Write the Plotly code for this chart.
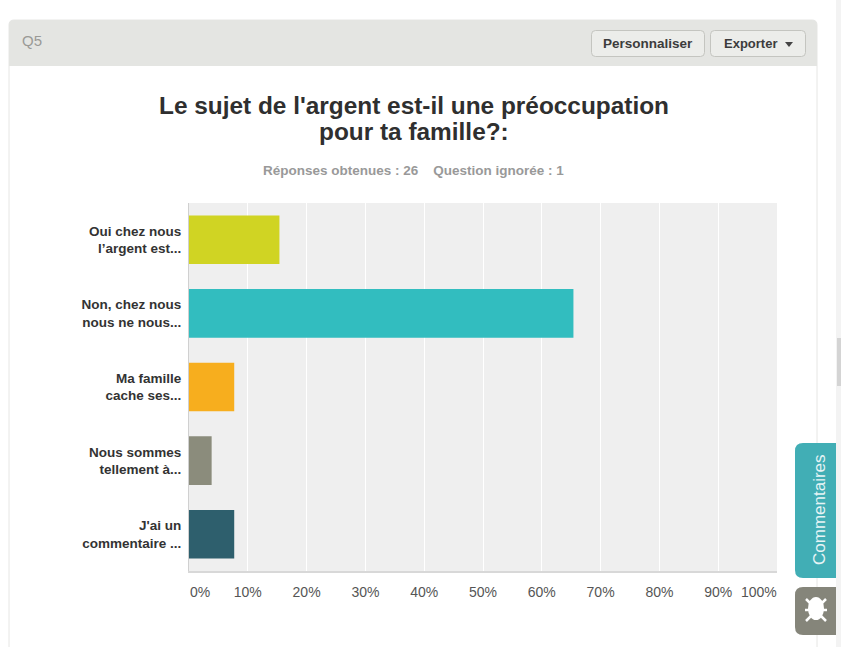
import plotly.graph_objects as go

W, H = 841, 647

categories = ["Oui chez nous<br>l’argent est...", "Non, chez nous<br>nous ne nous...", "Ma famille<br>cache ses...",
              "Nous sommes<br>tellement à...", "J'ai un<br>commentaire ..."]
values = [15.38, 65.38, 7.69, 3.85, 7.69]
colors = ["#d0d423", "#32bdbf", "#f7ae1e", "#8b8c7c", "#2e5f6d"]
tick_values = [10, 20, 30, 40, 50, 60, 70, 80, 90]
tick_labels = ["10%", "20%", "30%", "40%", "50%", "60%", "70%", "80%", "90%"]
FONT = "Liberation Sans, Arial, sans-serif"


def px(x):
    return x / W


def py(y):
    return 1 - y / H


def rrect(x0, y0, x1, y1, r=(4, 4, 4, 4)):
    tl, tr, br, bl = r
    X, Y = px, py
    d = f"M {X(x0+tl)} {Y(y0)} L {X(x1-tr)} {Y(y0)} "
    d += f"Q {X(x1)} {Y(y0)} {X(x1)} {Y(y0+tr)} L {X(x1)} {Y(y1-br)} "
    d += f"Q {X(x1)} {Y(y1)} {X(x1-br)} {Y(y1)} L {X(x0+bl)} {Y(y1)} "
    d += f"Q {X(x0)} {Y(y1)} {X(x0)} {Y(y1-bl)} L {X(x0)} {Y(y0+tl)} "
    d += f"Q {X(x0)} {Y(y0)} {X(x0+tl)} {Y(y0)} Z"
    return d


def pshape(path, fill, line=None, width=1):
    return dict(type="path", xref="paper", yref="paper", path=path, fillcolor=fill,
                line=dict(color=line or "rgba(0,0,0,0)", width=width if line else 0), layer="below")


def box(x0, y0, x1, y1, fill, line=None, width=1):
    return pshape(rrect(x0, y0, x1, y1, (0, 0, 0, 0)), fill, line, width)


def seg(x0, y0, x1, y1, color="#ffffff", width=2.5):
    return dict(type="line", xref="paper", yref="paper", x0=px(x0), y0=py(y0), x1=px(x1), y1=py(y1),
                line=dict(color=color, width=width), layer="above")


def label(x, y, text, size=12, color="#333", bold=False, xanchor="center", angle=0):
    return dict(xref="paper", yref="paper", x=px(x), y=py(y), text=f"<b>{text}</b>" if bold else text,
                showarrow=False, xanchor=xanchor, yanchor="middle", textangle=angle,
                font=dict(family=FONT, size=size, color=color), align="center")


fig = go.Figure(go.Bar(y=categories, x=values, orientation="h", marker=dict(color=colors, line=dict(width=0)),
                       width=0.66, hoverinfo="skip"))

shapes = [
    box(836, 0, 841, 647, "#f3f3f3"),
    box(837, 338, 841, 386, "#d4d4d4"),
    pshape(rrect(9, 20, 817, 660, (5, 5, 0, 0)), "#ffffff", "#e6e6e4", 1),
    pshape(rrect(9, 20, 817, 66, (5, 5, 0, 0)), "#e4e5e2"),
    pshape(rrect(591.5, 30.5, 704.5, 56.5, (4, 4, 4, 4)), "#ecedea", "#c4c5c0", 1),
    pshape(rrect(710.5, 30.5, 805.5, 56.5, (4, 4, 4, 4)), "#ecedea", "#c4c5c0", 1),
    pshape(f"M {px(785)} {py(42)} L {px(793)} {py(42)} L {px(789)} {py(47)} Z", "#444444"),
    box(189, 203, 777, 571, "#efefef"),
    pshape(rrect(795, 443, 836, 578, (8, 0, 0, 8)), "#41aeb5"),
    pshape(rrect(795, 587, 836, 635, (8, 0, 0, 8)), "#85857a"),
    # bug icon
    dict(type="circle", xref="paper", yref="paper", x0=px(808), x1=px(824), y0=py(620), y1=py(597),
         fillcolor="#ffffff", line=dict(width=0), layer="above"),
    seg(806, 599, 811, 604), seg(826, 599, 821, 604),
    seg(805, 610, 827, 610), seg(806, 621, 811, 616), seg(826, 621, 821, 616),
]

annotations = [
    label(20, 41, "Q5", 15, "#9a9a96", xanchor="left"),
    label(647.5, 43.5, "Personnaliser", 13.5, "#3c3c3c", bold=True),
    label(750, 43.5, "Exporter", 13, "#3c3c3c", bold=True),
    label(413.5, 105, "Le sujet de l'argent est-il une préoccupation", 24.4, "#2f2f2f", bold=True),
    label(413.5, 131, "pour ta famille?:", 24.4, "#2f2f2f", bold=True),
    label(413, 170, "Réponses obtenues : 26 &#160;&#160; Question ignorée : 1", 13.5, "#999999", bold=True),
    label(819, 510, "Commentaires", 17, "#e6f4f5", angle=-90),
    dict(xref="x", yref="paper", x=0, y=py(592), text="0%", showarrow=False, xanchor="left", yanchor="middle",
         xshift=-1, font=dict(family=FONT, size=14, color="#555")),
    dict(xref="x", yref="paper", x=100, y=py(592), text="100%", showarrow=False, xanchor="right", yanchor="middle",
         xshift=2, font=dict(family=FONT, size=14, color="#555")),
]

fig.update_layout(
    width=W, height=H, autosize=False, margin=dict(l=0, r=0, t=0, b=0),
    paper_bgcolor="#ffffff", plot_bgcolor="#efefef", showlegend=False, bargap=0.34,
    font=dict(family=FONT), shapes=shapes, annotations=annotations,
    xaxis=dict(domain=[px(189), px(777)], range=[0, 100], tickvals=tick_values, ticktext=tick_labels,
               showgrid=True, gridcolor="#ffffff", gridwidth=1, zeroline=False,
               showline=True, linecolor="#d8d8d8", linewidth=2,
               ticks="outside", ticklen=7, tickcolor="rgba(0,0,0,0)",
               tickfont=dict(family=FONT, size=14, color="#555")),
    yaxis=dict(domain=[py(571), py(203)], autorange="reversed", showgrid=False, zeroline=False,
               showline=True, linecolor="#d0d0d0", linewidth=1,
               ticks="outside", ticklen=4, tickcolor="rgba(0,0,0,0)",
               tickfont=dict(family=FONT, size=13.5, color="#333", weight="bold")),
)

# Remove the default page margin so the figure fills the 841x647 window.
fig.write_html("out.html", config=dict(displayModeBar=False),
               post_script="document.body.style.margin='0';document.body.style.overflow='hidden';")
